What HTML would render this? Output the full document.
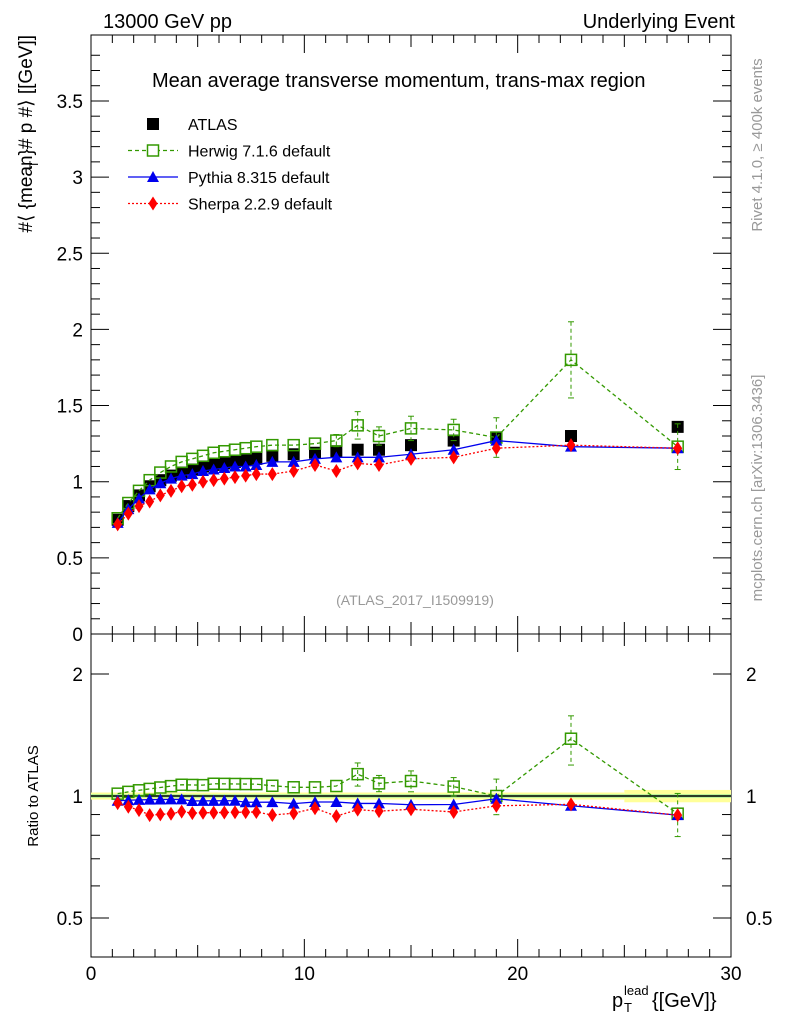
<!DOCTYPE html>
<html><head><meta charset="utf-8"><style>
body{margin:0;background:#fff}
svg text{font-family:"Liberation Sans",sans-serif}
</style></head><body>
<svg id="c" width="786" height="1024" xmlns="http://www.w3.org/2000/svg">
<g id="g"></g>
</svg>
<script>
const xs=[1.25,1.75,2.25,2.75,3.25,3.75,4.25,4.75,5.25,5.75,6.25,6.75,7.25,7.75,8.5,9.5,10.5,11.5,12.5,13.5,15,17,19,22.5,27.5];
const atlas=[0.75,0.84,0.91,0.97,1.01,1.04,1.06,1.08,1.10,1.11,1.12,1.13,1.14,1.15,1.17,1.18,1.19,1.20,1.21,1.21,1.24,1.27,1.29,1.30,1.36];
const herwig=[0.76,0.86,0.94,1.01,1.06,1.10,1.13,1.15,1.17,1.19,1.20,1.21,1.22,1.23,1.24,1.24,1.25,1.27,1.37,1.30,1.35,1.34,1.29,1.80,1.23];
const herwigErr=[0.01,0.01,0.01,0.01,0.01,0.01,0.01,0.01,0.01,0.01,0.01,0.01,0.02,0.02,0.02,0.02,0.03,0.04,0.09,0.06,0.08,0.07,0.13,0.25,0.15];
const pythia=[0.73,0.82,0.89,0.95,0.99,1.02,1.04,1.05,1.07,1.08,1.09,1.10,1.10,1.11,1.13,1.13,1.15,1.16,1.16,1.16,1.18,1.21,1.27,1.23,1.22];
const sherpa=[0.72,0.79,0.84,0.87,0.91,0.94,0.97,0.98,1.00,1.01,1.02,1.03,1.04,1.05,1.05,1.07,1.11,1.07,1.12,1.11,1.15,1.16,1.22,1.24,1.22];
const yTicks=["0","0.5","1","1.5","2","2.5","3","3.5"];
const xTicks=["0","10","20","30"];

const NS="http://www.w3.org/2000/svg",G=document.getElementById('g');
function el(t,a,txt){const e=document.createElementNS(NS,t);for(const k in a)e.setAttribute(k,a[k]);if(txt!==undefined)e.textContent=txt;G.appendChild(e);return e;}
const X0=91,X1=731,T=35,MB=634,RB=957;
const sx=v=>X0+(v/30)*(X1-X0);
const sy=v=>MB-v*152.3;
const L2=Math.log(2);
const sr=v=>796-Math.log(v)/L2*122;

let f=el('rect',{x:X0,y:T,width:X1-X0,height:MB-T,fill:'none',stroke:'#000','stroke-width':1});

f=el('rect',{x:X0,y:MB,width:X1-X0,height:RB-MB,fill:'none',stroke:'#000','stroke-width':1});


for(let v=0;v<=3.9;v+=0.1){const y=sy(v);if(y<T)break;const maj=Math.abs(v*2-Math.round(v*2))<1e-6;const len=maj?18:9;
 el('line',{x1:X0,x2:X0+len,y1:y,y2:y,stroke:'#000'});el('line',{x1:X1,x2:X1-len,y1:y,y2:y,stroke:'#000'});}
yTicks.forEach((t,i)=>{const e=el('text',{x:X0-8,y:sy(i*0.5)+7,'font-size':19,'text-anchor':'end'},t);
 });
for(let v=0;v<=30;v++){const maj=v%10==0,mid=v%5==0;const len=maj?18:(mid?12:8);const x=sx(v);
 el('line',{x1:x,x2:x,y1:MB,y2:MB-len,stroke:'#000'});el('line',{x1:x,x2:x,y1:T,y2:T+len,stroke:'#000'});
 el('line',{x1:x,x2:x,y1:RB,y2:RB-len,stroke:'#000'});el('line',{x1:x,x2:x,y1:MB,y2:MB+len,stroke:'#000'});}
xTicks.forEach((t,i)=>{const e=el('text',{x:sx(i*10),y:980,'font-size':19,'text-anchor':'middle'},t);
 });
[0.5,0.6,0.7,0.8,0.9,1,2].forEach(v=>{const y=sr(v);const maj=(v==0.5||v==1||v==2);const len=maj?18:9;
 el('line',{x1:X0,x2:X0+len,y1:y,y2:y,stroke:'#000'});el('line',{x1:X1,x2:X1-len,y1:y,y2:y,stroke:'#000'});});
[[0.5,"0.5"],[1,"1"],[2,"2"]].forEach(([v,t])=>{let e=el('text',{x:X0-8,y:sr(v)+7,'font-size':19,'text-anchor':'end'},t);
 
 e=el('text',{x:X1+15,y:sr(v)+7,'font-size':19},t);});

el('rect',{x:X0,y:sr(1.02),width:sx(25)-X0,height:sr(0.98)-sr(1.02),fill:'#ffff99'});
el('rect',{x:sx(25),y:sr(1.035),width:sx(30)-sx(25),height:sr(0.965)-sr(1.035),fill:'#ffff99'});
el('rect',{x:X0,y:sr(1.01),width:X1-X0,height:sr(0.99)-sr(1.01),fill:'#aaee99'});
el('line',{x1:X0,x2:X1,y1:sr(1),y2:sr(1),stroke:'#000','stroke-width':1.5});

function series(vals,err,color,dash,marker,name,ratio){
 const fy=ratio?(i=>sr(vals[i]/atlas[i])):(i=>sy(vals[i]));
 if(dash!==null){let d=xs.map((x,i)=>(i?'L':'M')+sx(x)+','+fy(i)).join('');
  const p=el('path',{d,fill:'none',stroke:color,'stroke-width':1.3,'stroke-dasharray':dash});
  }
 xs.forEach((x,i)=>{const cx=sx(x),cy=fy(i);
  if(err){const e=ratio?err[i]/atlas[i]:err[i];const y1=ratio?sr(vals[i]/atlas[i]+e):sy(vals[i]+err[i]),y2=ratio?sr(vals[i]/atlas[i]-e):sy(vals[i]-err[i]);
   if(Math.abs(y2-y1)>12){
   el('line',{x1:cx,x2:cx,y1,y2,stroke:color,'stroke-dasharray':dash||''});
   el('line',{x1:cx-3,x2:cx+3,y1,y2:y1,stroke:color});el('line',{x1:cx-3,x2:cx+3,y1:y2,y2,stroke:color});}}
  let m;
  if(marker=='sq')m=el('rect',{x:cx-6,y:cy-6,width:12,height:12,fill:'#000'});
  else if(marker=='osq')m=el('rect',{x:cx-5.5,y:cy-5.5,width:11,height:11,fill:'none',stroke:color,'stroke-width':1.5});
  else if(marker=='tri')m=el('path',{d:`M${cx},${cy-6}L${cx+6},${cy+5}L${cx-6},${cy+5}Z`,fill:color});
  else m=el('path',{d:`M${cx},${cy-7}L${cx+4.5},${cy}L${cx},${cy+7}L${cx-4.5},${cy}Z`,fill:color});
  });
}
series(atlas,null,'#000',null,'sq','atlas',false);
series(herwig,herwigErr,'#339900','4,3','osq','herwig',false);
series(pythia,null,'#0000ee','','tri','pythia',false);
series(sherpa,null,'#ff0000','2,2','dia','sherpa',false);
series(herwig,herwigErr,'#339900','4,3','osq','herwig-ratio',true);
series(pythia,null,'#0000ee','','tri','pythia-ratio',true);
series(sherpa,null,'#ff0000','2,2','dia','sherpa-ratio',true);

const leg=[['ATLAS','#000','sq',null],['Herwig 7.1.6 default','#339900','osq','4,3'],['Pythia 8.315 default','#0000ee','tri',''],['Sherpa 2.2.9 default','#ff0000','dia','2,2']];
leg.forEach((l,i)=>{const y=124+i*26.5,cx=153;
 if(l[3]!==null)el('line',{x1:128,x2:178,y1:y,y2:y,stroke:l[1],'stroke-width':1.3,'stroke-dasharray':l[3]});
 let m;
 if(l[2]=='sq')m=el('rect',{x:cx-6,y:y-6,width:12,height:12,fill:'#000'});
 else if(l[2]=='osq')m=el('rect',{x:cx-5.5,y:y-5.5,width:11,height:11,fill:'#fff',stroke:l[1],'stroke-width':1.5});
 else if(l[2]=='tri')m=el('path',{d:`M${cx},${y-6}L${cx+6},${y+5}L${cx-6},${y+5}Z`,fill:l[1]});
 else m=el('path',{d:`M${cx},${y-7}L${cx+4.5},${y}L${cx},${y+7}L${cx-4.5},${y}Z`,fill:l[1]});
 
 const t=el('text',{x:188,y:y+6,'font-size':16},l[0]);});

function txt(x,y,s,a,name){const t=el('text',Object.assign({x,y},a),s);return t;}
txt(103,28,'13000 GeV pp',{'font-size':20},'energy-label');
txt(735,28,'Underlying Event',{'font-size':20,'text-anchor':'end'},'process-label');
txt(152,87,'Mean average transverse momentum, trans-max region',{'font-size':20},'plot-title');
txt(415,605,'(ATLAS_2017_I1509919)',{'font-size':14,fill:'#999','text-anchor':'middle'},'analysis-id');
txt(0,0,'#⟨ {mean}# p  #⟩ [[GeV]]',{'font-size':19,transform:'translate(32,35) rotate(-90)','text-anchor':'end'},'y-axis-title');
txt(0,0,'T',{'font-size':12,transform:'translate(38,168) rotate(-90)'},'y-axis-title-sub');
txt(0,0,'Ratio to ATLAS',{'font-size':15,transform:'translate(38,796) rotate(-90)','text-anchor':'middle'},'ratio-axis-title');
txt(0,0,'Rivet 4.1.0, ≥ 400k events',{'font-size':15,fill:'#999',transform:'translate(762,145) rotate(-90)','text-anchor':'middle'},'rivet-label');
txt(0,0,'mcplots.cern.ch [arXiv:1306.3436]',{'font-size':15,fill:'#999',transform:'translate(762,488) rotate(-90)','text-anchor':'middle'},'mcplots-label');
txt(612,1007,'p',{'font-size':20},'x-axis-title');
txt(624,1012,'T',{'font-size':13},'x-axis-title-sub');
txt(624,995,'lead',{'font-size':13},'x-axis-title-sup');
txt(652,1007,'{[GeV]}',{'font-size':20},'x-axis-title-unit');
</script>
</body></html>
